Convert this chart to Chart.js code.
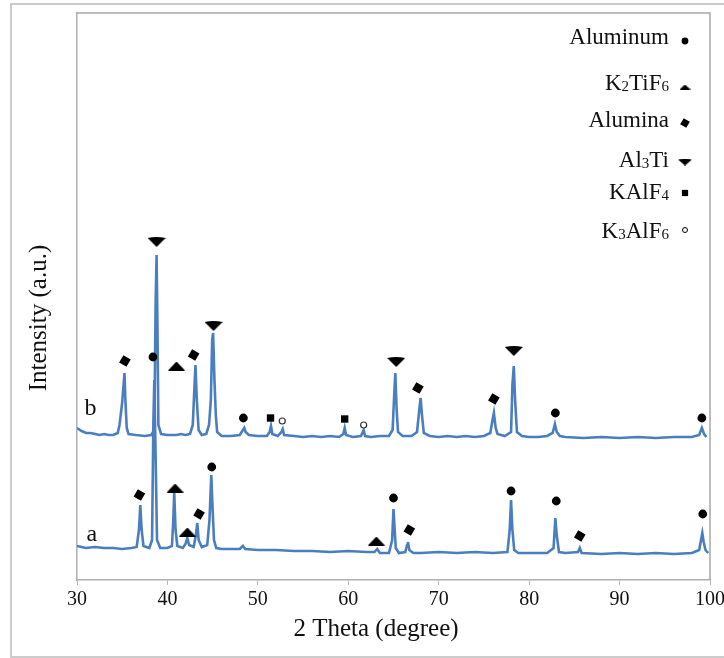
<!DOCTYPE html>
<html>
<head>
<meta charset="utf-8">
<script src="https://cdn.jsdelivr.net/npm/chart.js@4.4.1/dist/chart.umd.min.js"></script>
<style>
  html, body { margin: 0; padding: 0; background: #fff; }
  canvas { display: block; }
</style>
</head>
<body>
<canvas id="xrd" width="724" height="658"></canvas>
<script>
// pattern b (upper trace)
const bTheta = [30.0, 30.5, 31.0, 31.5, 32.0, 32.5, 33.0, 33.5, 34.0, 34.5, 34.7, 34.9, 35.0, 35.15, 35.25, 35.35, 35.5, 35.7, 36.5, 37.5,
  38.2, 38.55, 38.7, 38.8, 38.9, 39.0, 39.3, 40.0, 41.0, 41.5, 42.0, 42.5, 42.8, 42.95, 43.1, 43.25, 43.45, 43.8, 44.3, 44.6,
  44.8, 44.95, 45.05, 45.2, 45.35, 45.5, 46.0, 47.0, 48.0, 48.35, 48.5, 48.65, 49.0, 50.0, 51.0, 51.3, 51.45, 51.6, 52.2, 52.6,
  52.75, 52.9, 54, 55, 56, 57, 58, 59, 59.45, 59.6, 59.75, 60.5, 61.4, 61.7, 61.85, 62.5, 63.5, 64.5, 64.9, 65.05,
  65.2, 65.35, 65.5, 66, 67, 67.6, 67.85, 68.0, 68.15, 68.35, 69, 70, 71, 72, 73, 74, 75, 75.7, 75.95, 76.1,
  76.3, 76.5, 77.3, 78.0, 78.15, 78.3, 78.45, 78.65, 79.2, 80, 81, 82, 82.6, 82.85, 83.05, 83.4, 84, 86, 88, 90,
  92, 94, 96, 98, 98.8, 99.1, 99.35, 99.6];
const bCounts = [152, 149, 147, 147, 146, 145, 146, 145, 145, 147, 155, 170, 178, 195, 207, 180, 152, 146, 145, 144,
  145, 150, 280, 325, 250, 155, 146, 145, 145, 146, 145, 146, 155, 185, 215, 180, 150, 145, 146, 155,
  180, 240, 247, 200, 165, 148, 144, 144, 145, 150, 152, 148, 145, 144, 144, 148, 154, 146, 144, 148,
  151, 145, 144, 143, 144, 143, 144, 143, 146, 152, 145, 143, 144, 150, 144, 143, 144, 144, 150, 180,
  207, 170, 148, 144, 144, 148, 170, 182, 165, 147, 144, 143, 144, 143, 144, 143, 144, 147, 160, 167,
  152, 146, 144, 148, 195, 214, 180, 148, 144, 143, 143, 144, 147, 156, 148, 144, 143, 142, 143, 142,
  143, 142, 143, 143, 145, 152, 146, 143];

// pattern a (lower trace)
const aTheta = [30.0, 30.5, 31, 32, 33, 34, 35, 36, 36.6, 36.85, 37.0, 37.15, 37.35, 38.0, 38.3, 38.45, 38.55, 38.7, 38.85, 39.2,
  40.0, 40.5, 40.65, 40.75, 40.9, 41.1, 41.7, 42.0, 42.2, 42.4, 42.9, 43.15, 43.3, 43.45, 43.8, 44.4, 44.65, 44.85, 45.0, 45.15,
  45.4, 46, 47, 48, 48.35, 48.6, 50, 52, 54, 56, 58, 60, 62, 62.9, 63.2, 63.5, 64.5, 64.85, 65.0, 65.1,
  65.25, 65.6, 66.3, 66.5, 66.6, 66.75, 67.2, 68, 70, 72, 74, 76, 77.6, 77.85, 78.0, 78.15, 78.35, 78.8, 80, 82,
  82.7, 82.9, 83.05, 83.3, 84, 85.4, 85.6, 85.8, 88, 90, 92, 94, 96, 98, 98.8, 99.15, 99.3, 99.5, 99.8];
const aCounts = [34, 33, 32, 33, 32, 32, 31, 32, 33, 50, 75, 50, 34, 32, 40, 160, 200, 120, 40, 32,
  32, 34, 60, 88, 50, 34, 32, 36, 42, 35, 33, 45, 57, 40, 33, 35, 60, 105, 70, 40,
  32, 31, 31, 31, 34, 31, 30, 30, 29, 29, 28, 29, 28, 28, 31, 27, 27, 40, 71, 55,
  32, 27, 28, 35, 38, 30, 27, 27, 28, 27, 28, 27, 28, 50, 80, 50, 30, 27, 27, 27,
  32, 62, 45, 28, 27, 28, 32, 27, 26, 27, 26, 27, 26, 27, 30, 47, 38, 30, 27];

// phase markers
const alTheta = [38.4, 48.4, 82.9, 99.1, 44.9, 65.0, 78.0, 83.0, 99.2];
const alCounts = [223, 162, 167, 162, 113, 82, 89, 79, 66];
const k2tif6Theta = [41.0, 40.85, 42.2, 63.1];
const k2tif6Counts = [214, 92, 48, 39];
const aluminaTheta = [35.3, 42.9, 67.7, 76.1, 36.9, 43.5, 66.75, 85.6];
const aluminaCounts = [219, 225, 192, 181, 85, 66, 50, 44];
const al3tiTheta = [38.8, 45.1, 65.3, 78.3];
const al3tiCounts = [338, 254, 218, 229];
const kalf4Theta = [51.4, 59.6];
const kalf4Counts = [162, 161];
const k3alf6Theta = [52.7, 61.7];
const k3alf6Counts = [159, 155];

const xTicks = [30, 40, 50, 60, 70, 80, 90, 100];
const sampleNames = ['a', 'b'];
const sampleTheta = [31.65, 31.5];
const sampleCounts = [39, 165];

const SERIF = '"Liberation Serif", "Times New Roman", serif';
const LINE_BLUE = '#4a7ebf';

function pts(xs, ys) {
  return xs.map((x, i) => ({ x: x, y: ys[i] }));
}

function makeTri(w, h, down) {
  const c = document.createElement('canvas');
  c.width = w; c.height = h;
  const g = c.getContext('2d');
  g.fillStyle = '#000';
  g.beginPath();
  if (down) {
    g.moveTo(0, 1); g.quadraticCurveTo(w / 2, -1, w, 1); g.lineTo(w / 2, h);
  } else {
    g.moveTo(w / 2, 0); g.lineTo(w, h); g.lineTo(0, h);
  }
  g.closePath();
  g.fill();
  return c;
}

const triUp = makeTri(17, 9, false);
const triDown = makeTri(18, 10, true);
const triUpSmall = makeTri(11, 5, false);
const triDownSmall = makeTri(14, 7, true);

// legend rows: [text, subscript?] parts
const legendRows = [
  { parts: [['Aluminum', 0]], style: 'circle', r: 3.4 },
  { parts: [['K', 0], ['2', 1], ['TiF', 0], ['6', 1]], style: triUpSmall },
  { parts: [['Alumina', 0]], style: 'rect', r: 5, rot: 30 },
  { parts: [['Al', 0], ['3', 1], ['Ti', 0]], style: triDownSmall },
  { parts: [['KAlF', 0], ['4', 1]], style: 'rect', r: 4.4 },
  { parts: [['K', 0], ['3', 1], ['AlF', 0], ['6', 1]], style: 'circle', r: 2.5, hollow: true }
];

const decor = {
  id: 'decor',
  beforeDraw(chart) {
    const ctx = chart.ctx;
    ctx.save();
    ctx.strokeStyle = '#cccccc';
    ctx.lineWidth = 2;
    ctx.beginPath();
    ctx.moveTo(724, 4); ctx.lineTo(11, 4); ctx.lineTo(11, 657); ctx.lineTo(724, 657);
    ctx.stroke();
    ctx.restore();
  },
  afterDraw(chart) {
    const ctx = chart.ctx;
    const a = chart.chartArea;
    const xs = chart.scales.x, ys = chart.scales.y;
    ctx.save();
    // top + right frame
    ctx.strokeStyle = '#a8a8a8';
    ctx.lineWidth = 1.5;
    ctx.beginPath();
    ctx.moveTo(a.left, a.top); ctx.lineTo(a.right, a.top); ctx.lineTo(a.right, a.bottom);
    ctx.stroke();

    // sample labels
    ctx.fillStyle = '#111';
    ctx.font = '24px ' + SERIF;
    ctx.textAlign = 'center';
    ctx.textBaseline = 'alphabetic';
    sampleNames.forEach((s, i) => {
      ctx.fillText(s, xs.getPixelForValue(sampleTheta[i]), ys.getPixelForValue(sampleCounts[i]));
    });

    // axis titles
    ctx.font = '25px ' + SERIF;
    ctx.fillText('2 Theta (degree)', 376, 636);
    ctx.save();
    ctx.translate(46, 318);
    ctx.rotate(-Math.PI / 2);
    ctx.fillText('Intensity (a.u.)', 0, 0);
    ctx.restore();

    // legend
    const baselines = [44, 90, 127, 167, 199, 238];
    const markerY = [41, 87, 123, 162, 193, 230];
    legendRows.forEach((row, i) => {
      let total = 0;
      row.parts.forEach(p => {
        ctx.font = (p[1] ? '15px ' : '23px ') + SERIF;
        total += ctx.measureText(p[0]).width;
      });
      let x = 669 - total;
      ctx.textAlign = 'left';
      row.parts.forEach(p => {
        ctx.font = (p[1] ? '15px ' : '23px ') + SERIF;
        ctx.fillText(p[0], x, baselines[i] + (p[1] ? 1 : 0));
        x += ctx.measureText(p[0]).width;
      });
      ctx.fillStyle = row.hollow ? '#fff' : '#000';
      ctx.strokeStyle = '#000';
      ctx.lineWidth = row.hollow ? 1 : 0.01;
      Chart.helpers.drawPoint(ctx, {
        pointStyle: row.style, radius: row.r || 5, rotation: row.rot || 0, borderWidth: ctx.lineWidth
      }, 685, markerY[i]);
      ctx.fillStyle = '#111';
    });
    ctx.restore();
  }
};

const markerBase = { showLine: false, borderColor: '#000', backgroundColor: '#000', borderWidth: 0 };

new Chart(document.getElementById('xrd'), {
  type: 'scatter',
  data: {
    datasets: [
      Object.assign({ label: 'Aluminum', data: pts(alTheta, alCounts), pointStyle: 'circle', pointRadius: 4.4 }, markerBase),
      Object.assign({ label: 'K2TiF6', data: pts(k2tif6Theta, k2tif6Counts), pointStyle: triUp }, markerBase),
      Object.assign({ label: 'Alumina', data: pts(aluminaTheta, aluminaCounts), pointStyle: 'rect', pointRadius: 6, rotation: 30 }, markerBase),
      Object.assign({ label: 'Al3Ti', data: pts(al3tiTheta, al3tiCounts), pointStyle: triDown }, markerBase),
      Object.assign({ label: 'KAlF4', data: pts(kalf4Theta, kalf4Counts), pointStyle: 'rect', pointRadius: 5.2 }, markerBase),
      { label: 'K3AlF6', data: pts(k3alf6Theta, k3alf6Counts), showLine: false, pointStyle: 'circle', pointRadius: 3,
        backgroundColor: '#fff', borderColor: '#333', borderWidth: 1.2 },
      { label: 'b', data: pts(bTheta, bCounts), showLine: true, pointRadius: 0, borderColor: LINE_BLUE, borderWidth: 2.6, tension: 0 },
      { label: 'a', data: pts(aTheta, aCounts), showLine: true, pointRadius: 0, borderColor: LINE_BLUE, borderWidth: 2.6, tension: 0 }
    ]
  },
  options: {
    responsive: false,
    animation: false,
    layout: { padding: { top: 13, right: 14, left: 0, bottom: 0 } },
    plugins: { legend: { display: false }, tooltip: { enabled: false } },
    scales: {
      x: {
        type: 'linear', min: 30, max: 100,
        afterBuildTicks(s) { s.ticks = xTicks.map(v => ({ value: v })); },
        afterFit(s) { s.height = 78; s.paddingLeft = 0; s.paddingRight = 0; },
        ticks: { color: '#111', font: { family: SERIF, size: 20 }, padding: 3 },
        grid: { display: true, drawOnChartArea: false, drawTicks: true, tickLength: 5, color: '#b8b8b8' },
        border: { color: '#b0b0b0', width: 1.5 }
      },
      y: {
        min: 0, max: 567,
        afterFit(s) { s.width = 77; },
        ticks: { display: false },
        grid: { display: false },
        border: { color: '#b0b0b0', width: 1.5 }
      }
    }
  },
  plugins: [decor]
});
</script>
</body>
</html>
